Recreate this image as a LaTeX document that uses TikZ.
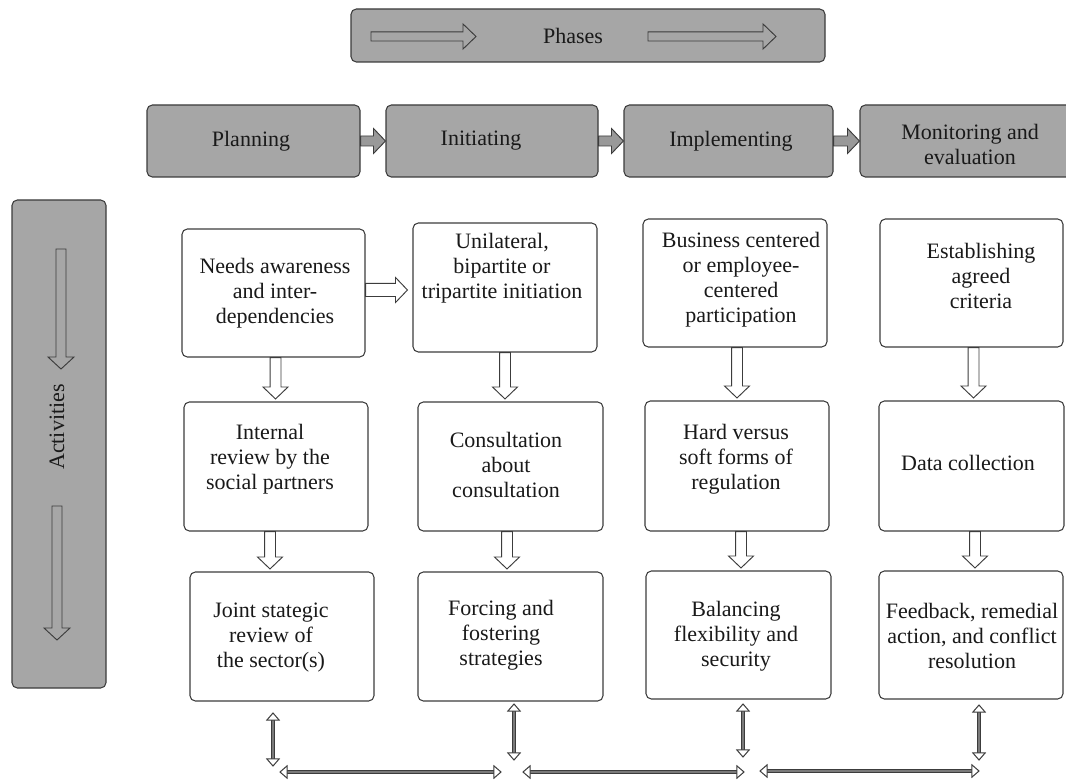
\documentclass[tikz,border=0pt]{standalone}
\usepackage{fontspec}
\setmainfont{Liberation Serif}
\usetikzlibrary{calc,fit}

\definecolor{boxgray}{HTML}{A6A6A6}
\definecolor{edge}{HTML}{3C3C3C}
\definecolor{shaftgray}{HTML}{7A7A7A}

% Block arrow as one outline: style, tail, tip, shaft half-width, head half-width, head length
\newcommand\blockarrow[6]{%
  \draw[#1] ($(#2)!#4!90:(#3)$)
    -- ($(#3)!#6!(#2)!#4!-90:(#2)$)
    -- ($(#3)!#6!(#2)!#5!-90:(#2)$)
    -- (#3)
    -- ($(#3)!#6!(#2)!#5!90:(#2)$)
    -- ($(#3)!#6!(#2)!#4!90:(#2)$)
    -- ($(#2)!#4!-90:(#3)$) -- cycle;}

% Downward hollow arrow between two stacked boxes, on the vertical line x = #3
\newcommand\vlink[3]{%
  \coordinate (vl-t) at (#1.south -| #3,0);
  \coordinate (vl-h) at ($(#2.north -| #3,0)+(0,-2.5)$);
  \blockarrow{hollow}{vl-t}{vl-h}{4.1pt}{9.4pt}{9pt}}

% Rightward arrow between two boxes at height #4, stopping #5 short of the target
\newcommand\hlink[7]{%
  \coordinate (hl-t) at (#2.east |- 0,#4);
  \coordinate (hl-h) at ($(#3.west |- 0,#4)+(-#5,0)$);
  \blockarrow{#1}{hl-t}{hl-h}{#6}{#7}{9pt}}

% Two-headed arrow with a double-line shaft
\newcommand\twoway[2]{%
  \draw[dshaft] ($(#1)!4.5pt!(#2)$) -- ($(#2)!4.5pt!(#1)$);
  \draw[dhead] (#1) -- ($(#1)!5.3pt!(#2)!4.6pt!90:(#2)$) -- ($(#1)!5.3pt!(#2)!4.6pt!-90:(#2)$) -- cycle;
  \draw[dhead] (#2) -- ($(#2)!5.3pt!(#1)!4.6pt!90:(#1)$) -- ($(#2)!5.3pt!(#1)!4.6pt!-90:(#1)$) -- cycle;}

\begin{document}
\begin{tikzpicture}[x=0.75pt, y=-0.75pt,
  graybox/.style={draw=edge, line width=0.8pt, fill=boxgray, rounded corners=4pt, inner sep=0pt},
  actbox/.style={draw=edge, line width=0.8pt, fill=white, rounded corners=4pt, inner sep=0pt},
  txt/.style={font=\fontsize{16.5}{18.75}\selectfont, align=center, inner sep=0pt, text=black!90},
  hollow/.style={draw=edge, fill=white, line width=0.7pt, line join=miter},
  fatarrow/.style={draw=edge, fill=boxgray!92!black, line width=0.7pt, line join=miter},
  openarrow/.style={draw=edge, line width=0.7pt, line join=miter},
  dshaft/.style={draw=edge, line width=0.8pt, double=shaftgray, double distance=1.8pt},
  dhead/.style={draw=edge, fill=white, line width=0.75pt, line join=miter},
]
\useasboundingbox[fill=white] (0,0) rectangle (1066,780);

% ---- header band ----
\node[graybox, fit={(351,9)(825,62)}] (phases) {};
\node[txt] (phasestxt) at (573,36) {Phases};
\coordinate (ph1t) at (371,36.5);
\coordinate (ph1h) at (476,36.5);
\coordinate (ph2t) at (648,36.5);
\coordinate (ph2h) at (776,36.5);
\blockarrow{openarrow}{ph1t}{ph1h}{3.4pt}{9.4pt}{9.75pt}
\blockarrow{openarrow}{ph2t}{ph2h}{3.4pt}{9.4pt}{9.75pt}

% ---- phase boxes ----
\node[graybox, fit={(147,105)(360,177)}] (plan) {};
\node[graybox, fit={(386,105)(598,177)}] (init) {};
\node[graybox, fit={(624,105)(833,177)}] (impl) {};
\node[graybox, fit={(860,105)(1072,177)}] (mon) {};
\node[txt] (plantxt) at (251,141) {Planning};
\node[txt] (inittxt) at (481,141) {Initiating};
\node[txt] (impltxt) at (731,141) {Implementing};
\node[txt] (montxt) at (970,144) {Monitoring and\\evaluation};
\hlink{fatarrow}{plan}{init}{141}{0}{3.75pt}{9.4pt}
\hlink{fatarrow}{init}{impl}{141}{0}{3.75pt}{9.4pt}
\hlink{fatarrow}{impl}{mon}{141}{0}{3.75pt}{9.4pt}

% ---- side band ----
\node[graybox, fit={(12,200)(106,688)}] (act) {};
\node[txt, rotate=90] (acttxt) at (57,427) {Activities};
\coordinate (ac1t) at (61,249);
\coordinate (ac1h) at (61,369);
\coordinate (ac2t) at (57,506);
\coordinate (ac2h) at (57,640);
\blockarrow{openarrow}{ac1t}{ac1h}{3.75pt}{9.75pt}{9pt}
\blockarrow{openarrow}{ac2t}{ac2h}{3.75pt}{9.75pt}{9pt}

% ---- activity boxes ----
\node[actbox, fit={(182,229)(365,357)}] (n11) {};
\node[actbox, fit={(413,223)(597,352)}] (n12) {};
\node[actbox, fit={(643,219)(827,347)}] (n13) {};
\node[actbox, fit={(880,219)(1063,347)}] (n14) {};
\node[actbox, fit={(184,402)(368,531)}] (n21) {};
\node[actbox, fit={(418,402)(603,531)}] (n22) {};
\node[actbox, fit={(645,401)(829,531)}] (n23) {};
\node[actbox, fit={(879,401)(1064,531)}] (n24) {};
\node[actbox, fit={(190,572)(374,701)}] (n31) {};
\node[actbox, fit={(418,572)(603,701)}] (n32) {};
\node[actbox, fit={(646,571)(831,699)}] (n33) {};
\node[actbox, fit={(879,571)(1063,699)}] (n34) {};

\node[txt] (t11) at (275,293) {Needs awareness\\and inter-\\dependencies};
\node[txt] (t12) at (502,268) {Unilateral,\\bipartite or\\tripartite initiation};
\node[txt] (t13) at (741,279.5) {Business centered\\or employee-\\centered\\participation};
\node[txt] (t14) at (981,276) {Establishing\\agreed\\criteria};
\node[txt] (t21) at (270,459) {Internal\\review by the\\social partners};
\node[txt] (t22) at (506,465) {Consultation\\about\\consultation};
\node[txt] (t23) at (736,459) {Hard versus\\soft forms of\\regulation};
\node[txt] (t24) at (968,463) {Data collection};
\node[txt] (t31) at (271,638) {Joint stategic\\review of\\the sector(s)};
\node[txt] (t32) at (501,635) {Forcing and\\fostering\\strategies};
\node[txt] (t33) at (736,636) {Balancing\\flexibility and\\security};
\node[txt] (t34) at (972,636) {Feedback, remedial\\action, and conflict\\resolution};

% ---- flow between activities ----
\vlink{n11}{n21}{275.5}
\vlink{n21}{n31}{270}
\vlink{n12}{n22}{505}
\vlink{n22}{n32}{507}
\vlink{n13}{n23}{737}
\vlink{n23}{n33}{741}
\vlink{n14}{n24}{973.5}
\vlink{n24}{n34}{975}
\hlink{hollow}{n11}{n12}{290}{5}{4.9pt}{9.4pt}

% ---- two-way links along the bottom ----
\coordinate (d1t) at (273,713);
\coordinate (d1b) at (273,766);
\coordinate (d2t) at (514,704);
\coordinate (d2b) at (514,760);
\coordinate (d3t) at (743,704);
\coordinate (d3b) at (743,757);
\coordinate (d4t) at (979,705);
\coordinate (d4b) at (979,760);
\coordinate (h1l) at (280,772);
\coordinate (h1r) at (501,772);
\coordinate (h2l) at (523,772);
\coordinate (h2r) at (744,772);
\coordinate (h3l) at (760,771);
\coordinate (h3r) at (979,771);
\twoway{d1t}{d1b}
\twoway{d2t}{d2b}
\twoway{d3t}{d3b}
\twoway{d4t}{d4b}
\twoway{h1l}{h1r}
\twoway{h2l}{h2r}
\twoway{h3l}{h3r}
\end{tikzpicture}
\end{document}
